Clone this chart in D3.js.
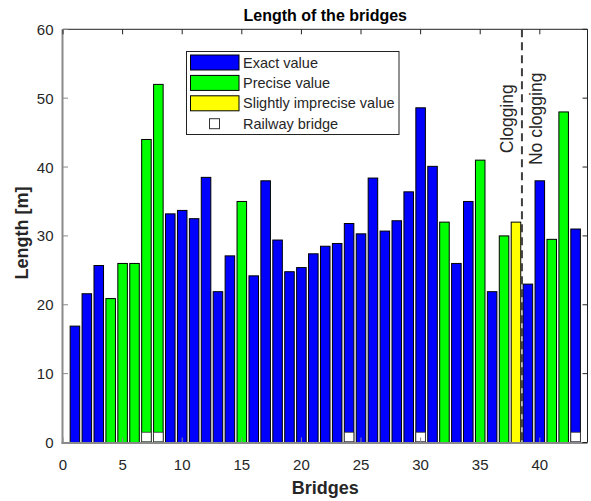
<!DOCTYPE html>
<html>
<head>
<meta charset="utf-8">
<script src="https://cdn.jsdelivr.net/npm/d3@7"></script>
<style>
  html, body { margin: 0; padding: 0; background: #fff; }
  svg { display: block; font-family: "Liberation Sans", Arial, Helvetica, sans-serif; }
</style>
</head>
<body>
<svg id="chart" width="591" height="501"></svg>
<script>
// Bridge numbers 1..43 and their lengths in metres
const bridges = d3.range(1, 44);
const lengths = [16.9, 21.6, 25.7, 20.9, 26, 26, 44, 52, 33.2, 33.7,
                 32.5, 38.5, 21.9, 27.1, 35, 24.2, 38, 29.4, 24.8, 25.4,
                 27.4, 28.5, 28.9, 31.8, 30.3, 38.4, 30.7, 32.2, 36.4, 48.6,
                 40.1, 32, 26, 35, 41, 21.9, 30, 32, 23, 38,
                 29.5, 48, 31];
// Accuracy of each measurement: E = exact, P = precise, S = slightly imprecise
const accuracy = ["E","E","E","P","P","P","P","P","E","E",
                  "E","E","E","E","P","E","E","E","E","E",
                  "E","E","E","E","E","E","E","E","E","E",
                  "E","P","E","E","P","E","P","S","E","E",
                  "P","P","E"];
const railwayBridges = [7, 8, 24, 30, 43];
const railwayMarkY = 0.8;
const cloggingSplit = 38.5;
const cloggingLabels = ["Clogging", "No clogging"];
const legendLabels = ["Exact value", "Precise value", "Slightly imprecise value", "Railway bridge"];
const xTicks = [0, 5, 10, 15, 20, 25, 30, 35, 40];
const yTicks = [0, 10, 20, 30, 40, 50, 60];

const fillFor = { E: "#0000ff", P: "#00ff00", S: "#ffff00" };
const legendKeys = ["E", "P", "S"];

const svg = d3.select("#chart");
const pL = 63, pR = 587.5, pT = 29.3, pB = 442.5;

const x = d3.scaleLinear().domain([0, 44]).range([pL, pR]);
const y = d3.scaleLinear().domain([0, 60]).range([pB, pT]);
const barW = x(0.8) - x(0);

const axisGray = "#8a8a8a";
const textGray = "#262626";

// Bars
svg.append("g").selectAll("rect")
  .data(bridges)
  .join("rect")
  .attr("x", d => x(d) - barW / 2)
  .attr("y", (d, i) => y(lengths[i]))
  .attr("width", barW)
  .attr("height", (d, i) => y(0) - y(lengths[i]))
  .attr("fill", (d, i) => fillFor[accuracy[i]])
  .attr("stroke", "#000")
  .attr("stroke-width", 1);

// Railway bridge markers
svg.append("g").selectAll("rect")
  .data(railwayBridges)
  .join("rect")
  .attr("x", d => x(d) - barW / 2)
  .attr("y", y(railwayMarkY) - barW / 2)
  .attr("width", barW)
  .attr("height", barW)
  .attr("fill", "#fff")
  .attr("stroke", "#333")
  .attr("stroke-width", 0.8);

// Axes box
const tickLen = 5;
const axes = svg.append("g");
axes.append("line").attr("x1", pL).attr("x2", pR).attr("y1", pT).attr("y2", pT)
  .attr("stroke", "#222").attr("stroke-width", 1);
axes.append("line").attr("x1", pR).attr("x2", pR).attr("y1", pT).attr("y2", pB)
  .attr("stroke", "#222").attr("stroke-width", 1);
axes.append("line").attr("x1", pL - 0.5).attr("x2", pL - 0.5).attr("y1", pT).attr("y2", pB + 1)
  .attr("stroke", axisGray).attr("stroke-width", 2);
axes.append("line").attr("x1", pL - 1.5).attr("x2", pR).attr("y1", pB + 0.5).attr("y2", pB + 0.5)
  .attr("stroke", axisGray).attr("stroke-width", 2);

// Ticks (inward, mirrored on top and right)
const tk = axes.append("g");
xTicks.forEach(t => {
  tk.append("line").attr("x1", x(t)).attr("x2", x(t)).attr("y1", pB).attr("y2", pB - tickLen)
    .attr("stroke", axisGray).attr("stroke-width", 1);
  tk.append("line").attr("x1", x(t)).attr("x2", x(t)).attr("y1", pT).attr("y2", pT + tickLen)
    .attr("stroke", "#222").attr("stroke-width", 1);
});
yTicks.forEach(t => {
  tk.append("line").attr("x1", pL).attr("x2", pL + tickLen).attr("y1", y(t)).attr("y2", y(t))
    .attr("stroke", axisGray).attr("stroke-width", 1);
  tk.append("line").attr("x1", pR).attr("x2", pR - tickLen).attr("y1", y(t)).attr("y2", y(t))
    .attr("stroke", "#222").attr("stroke-width", 1);
});

// Tick labels
svg.append("g").selectAll("text")
  .data(xTicks)
  .join("text")
  .attr("x", d => x(d))
  .attr("y", 470)
  .attr("text-anchor", "middle")
  .attr("font-size", 15)
  .attr("fill", textGray)
  .text(d => d);

svg.append("g").selectAll("text")
  .data(yTicks)
  .join("text")
  .attr("x", 53.5)
  .attr("y", d => y(d) + 5.5)
  .attr("text-anchor", "end")
  .attr("font-size", 15)
  .attr("fill", textGray)
  .text(d => d);

// Axis titles and chart title
svg.append("text")
  .attr("x", (pL + pR) / 2).attr("y", 21)
  .attr("text-anchor", "middle").attr("font-size", 16).attr("font-weight", "bold")
  .attr("fill", "#000")
  .text("Length of the bridges");

svg.append("text")
  .attr("x", (pL + pR) / 2).attr("y", 494)
  .attr("text-anchor", "middle").attr("font-size", 18).attr("font-weight", "bold")
  .attr("fill", textGray)
  .text("Bridges");

svg.append("text")
  .attr("transform", `translate(28,${(pT + pB) / 2 - 3}) rotate(-90)`)
  .attr("text-anchor", "middle").attr("font-size", 18).attr("font-weight", "bold")
  .attr("fill", textGray)
  .text("Length [m]");

// Clogging divider
const splitX = x(cloggingSplit);
svg.append("line")
  .attr("x1", splitX).attr("x2", splitX).attr("y1", pT).attr("y2", pB)
  .attr("stroke", "#404040").attr("stroke-width", 2)
  .attr("stroke-dasharray", "8,5");

svg.append("text")
  .attr("transform", `translate(${splitX - 9},${y(47)}) rotate(-90)`)
  .attr("text-anchor", "middle").attr("font-size", 17.5).attr("fill", textGray)
  .text(cloggingLabels[0]);
svg.append("text")
  .attr("transform", `translate(${splitX + 20.5},${y(47)}) rotate(-90)`)
  .attr("text-anchor", "middle").attr("font-size", 17.5).attr("fill", textGray)
  .text(cloggingLabels[1]);

// Legend
const lg = svg.append("g");
lg.append("rect").attr("x", 186.5).attr("y", 51.5).attr("width", 212.5).attr("height", 83)
  .attr("fill", "#fff").attr("stroke", "#222").attr("stroke-width", 1);
const rowY = i => 62.5 + i * 20.4;
legendKeys.forEach((k, i) => {
  lg.append("rect").attr("x", 190.5).attr("y", rowY(i) - 7.5).attr("width", 48.5).attr("height", 15)
    .attr("fill", fillFor[k]).attr("stroke", "#000").attr("stroke-width", 1);
});
lg.append("rect").attr("x", 209.5).attr("y", rowY(3) - 5).attr("width", 10).attr("height", 10)
  .attr("fill", "#fff").attr("stroke", "#333").attr("stroke-width", 1);
legendLabels.forEach((t, i) => {
  lg.append("text").attr("x", 243).attr("y", rowY(i) + 5)
    .attr("font-size", 14.5).attr("fill", textGray).text(t);
});
</script>
</body>
</html>
